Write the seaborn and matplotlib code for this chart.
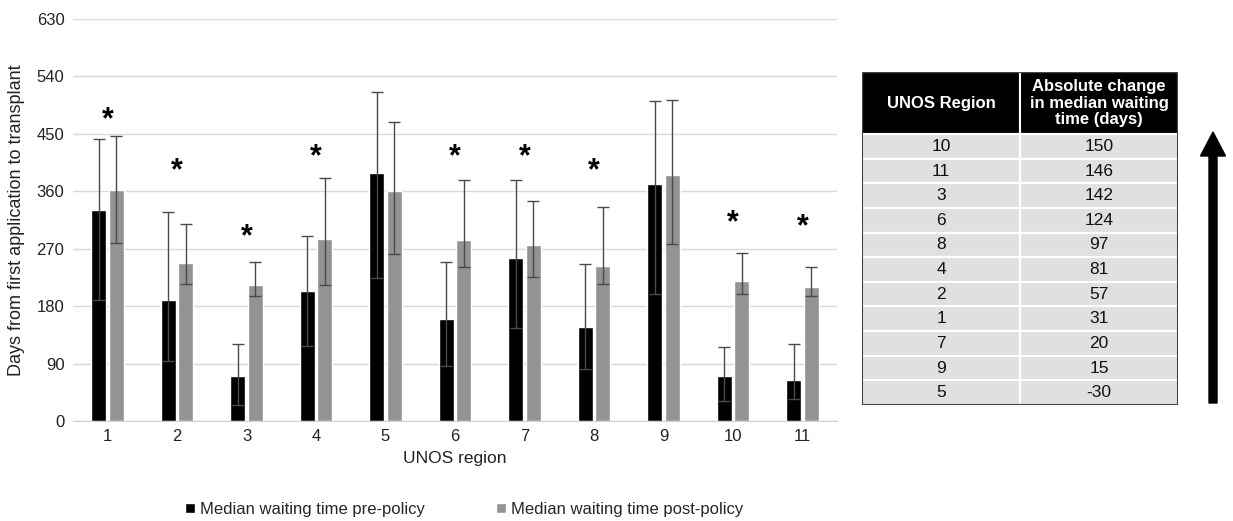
import numpy as np
import pandas as pd
import matplotlib.pyplot as plt
import matplotlib.patches as mpatches
import seaborn as sns

# values
regions = ['1', '2', '3', '4', '5', '6', '7', '8', '9', '10', '11']
pre_median = [331, 190, 70, 204, 389, 159, 255, 147, 371, 70, 64]
pre_low = [190, 94, 25, 118, 224, 86, 146, 81, 199, 31, 34]
pre_high = [441, 328, 121, 289, 516, 249, 378, 246, 501, 116, 121]
post_median = [362, 247, 213, 285, 360, 284, 275, 243, 386, 220, 210]
post_low = [279, 215, 196, 213, 261, 241, 226, 214, 277, 199, 195]
post_high = [446, 309, 249, 380, 468, 377, 344, 335, 502, 263, 241]
star_regions = ['1', '2', '3', '4', '6', '7', '8', '10', '11']
star_y = [479, 400, 296, 421, 421, 421, 400, 318, 312]

table_regions = ['10', '11', '3', '6', '8', '4', '2', '1', '7', '9', '5']
table_change = ['150', '146', '142', '124', '97', '81', '57', '31', '20', '15', '-30']

pre_label = 'Median waiting time pre-policy'
post_label = 'Median waiting time post-policy'

df = pd.DataFrame({
    'region': regions * 2,
    'days': pre_median + post_median,
    'period': [pre_label] * len(regions) + [post_label] * len(regions),
})

sns.set_style('white')
plt.rcParams['font.family'] = ['Liberation Sans', 'DejaVu Sans']

fig = plt.figure(figsize=(12.33, 5.21), dpi=100)
ax = fig.add_axes([0.059, 0.192, 0.62, 0.772])

sns.barplot(data=df, x='region', y='days', hue='period', order=regions,
            palette=['#000000', '#939393'], width=0.5, gap=0.15,
            errorbar=None, saturation=1, ax=ax)

# asymmetric error bars at bar centres
for cont, med, lo, hi in [(ax.containers[0], pre_median, pre_low, pre_high),
                          (ax.containers[1], post_median, post_low, post_high)]:
    xs = [p.get_x() + p.get_width() / 2 for p in cont.patches]
    med = np.array(med)
    yerr = [med - np.array(lo), np.array(hi) - med]
    ax.errorbar(xs, med, yerr=yerr, fmt='none', ecolor='#4a4a4a',
                elinewidth=1, capsize=4, capthick=1, zorder=3)

# significance stars (glyph sits high in its box, so nudge down a little)
for r, y in zip(star_regions, star_y):
    ax.annotate('*', xy=(regions.index(r), y), xytext=(0, -4),
                textcoords='offset points', ha='center', va='center',
                fontsize=22, fontweight='bold', color='black')

ax.set_ylim(0, 630)
ax.set_yticks(np.arange(0, 631, 90))
ax.set_xlim(-0.5, len(regions) - 0.5)
ax.yaxis.grid(True, color='#d9d9d9', linewidth=1)
ax.set_axisbelow(True)
for s in ['top', 'right', 'left']:
    ax.spines[s].set_visible(False)
ax.spines['bottom'].set_color('#d0d0d0')
ax.tick_params(axis='both', length=0, labelsize=12, colors='#222222', pad=6)
ax.set_xlabel('UNOS region', fontsize=12.5, color='#222222', labelpad=5)
ax.set_ylabel('Days from first application to transplant', fontsize=13,
              color='#222222', labelpad=8)

handles, labels = ax.get_legend_handles_labels()
ax.legend(handles, labels, loc='center', bbox_to_anchor=(0.512, -0.22),
          ncol=2, frameon=False, fontsize=12, handlelength=0.6,
          handleheight=0.6, handletextpad=0.3, columnspacing=4.3)

# ranking table on the right
tax = fig.add_axes([862 / 1233, 1 - 405 / 521, 316 / 1233, 333 / 521])
tax.axis('off')
cells = [[r, c] for r, c in zip(table_regions, table_change)]
tbl = tax.table(cellText=cells,
                colLabels=['UNOS Region', 'Absolute change\nin median waiting\ntime (days)'],
                cellLoc='center', bbox=[0, 0, 1, 1])
tbl.auto_set_font_size(False)
for (row, col), cell in tbl.get_celld().items():
    cell.set_edgecolor('white')
    cell.set_linewidth(1.5)
    cell.set_width(0.5)
    txt = cell.get_text()
    if row == 0:
        cell.set_height(62)
        cell.set_facecolor('black')
        txt.set_color('white')
        txt.set_fontweight('bold')
        txt.set_fontsize(12)
        txt.set_linespacing(1.15)
    else:
        cell.set_height(24.6)
        cell.set_facecolor('#e0e0e0')
        txt.set_fontsize(12.5)
        txt.set_color('#111111')
tax.add_patch(plt.Rectangle((0, 0), 1, 1, transform=tax.transAxes, fill=False,
                            edgecolor='#444444', linewidth=1.5, zorder=5))

# arrow pointing up beside the table (axes sized in pixels)
aax = fig.add_axes([1195 / 1233, 1 - 405 / 521, 36 / 1233, 275 / 521])
aax.axis('off')
aax.set_xlim(0, 36)
aax.set_ylim(0, 275)
aax.add_patch(mpatches.FancyArrow(18, 2, 0, 271, width=8, head_width=25,
                                  head_length=24, length_includes_head=True,
                                  color='black'))

fig.savefig('out.png', dpi=100)
